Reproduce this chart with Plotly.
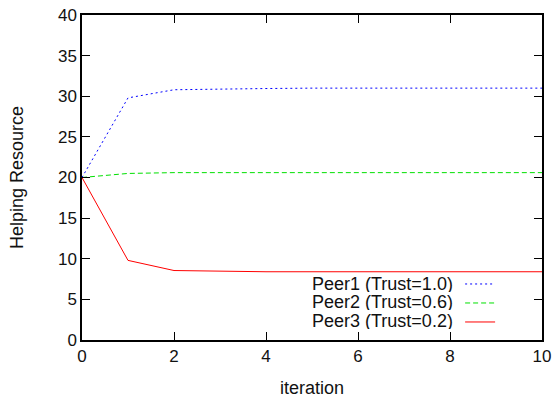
import plotly.graph_objects as go

iterations = [0, 1, 2, 3, 4, 5, 6, 7, 8, 9, 10]
peer1 = [20.0, 29.8, 30.8, 30.9, 30.95, 31.0, 31.0, 31.0, 31.0, 31.0, 31.0]
peer2 = [20.0, 20.5, 20.6, 20.6, 20.6, 20.6, 20.6, 20.6, 20.6, 20.6, 20.6]
peer3 = [20.0, 9.8, 8.55, 8.45, 8.4, 8.4, 8.4, 8.4, 8.4, 8.4, 8.4]
names = ["Peer1 (Trust=1.0)", "Peer2 (Trust=0.6)", "Peer3 (Trust=0.2)"]
colors = ["#0000ff", "#00e000", "#ff0000"]
dashes = ["2px,3px", "5px,3px", "solid"]

FONT = "Liberation Sans, Arial, Helvetica, sans-serif"
FS = 17
FT = 18

fig = go.Figure()
for ys, name, c, d in zip([peer1, peer2, peer3], names, colors, dashes):
    fig.add_trace(go.Scatter(x=iterations, y=ys, mode="lines", name="",
                             line=dict(color=c, dash=d, width=1),
                             showlegend=True, hoverinfo="skip"))

legend_rows_y = [0.174, 0.117, 0.061]
for name, yy in zip(names, legend_rows_y):
    fig.add_annotation(text=name, x=0.811, y=yy, xref="paper", yref="paper",
                       xanchor="right", yanchor="middle", showarrow=False,
                       height=17, valign="middle",
                       font=dict(family=FONT, size=FT, color="#111111"))

axis_common = dict(showline=True, linecolor="black", linewidth=1.5, mirror="ticks",
                   ticks="inside", ticklen=8, tickcolor="black", tickwidth=1,
                   showgrid=False, zeroline=False, automargin=False,
                   tickfont=dict(family=FONT, size=FS, color="#111111"))

fig.update_layout(
    width=554, height=400,
    margin=dict(l=82, r=12, t=15, b=60),
    plot_bgcolor="white", paper_bgcolor="white",
    font=dict(family=FONT, size=FS, color="#111111"),
    xaxis=dict(range=[0, 10], dtick=2, title=dict(text="iteration", standoff=16,
               font=dict(family=FONT, size=FT)), **axis_common),
    yaxis=dict(range=[0, 40], dtick=5, title=dict(text="Helping Resource", standoff=30,
               font=dict(family=FONT, size=FT)), **axis_common),
    legend=dict(x=0.822, y=0.217, xanchor="left", yanchor="top",
                bgcolor="rgba(0,0,0,0)", borderwidth=0, tracegroupgap=0,
                font=dict(family=FONT, size=11), itemwidth=30),
    showlegend=True,
)

fig.write_html("out.html", config={"displayModeBar": False},
               post_script="document.body.style.margin='0';")
